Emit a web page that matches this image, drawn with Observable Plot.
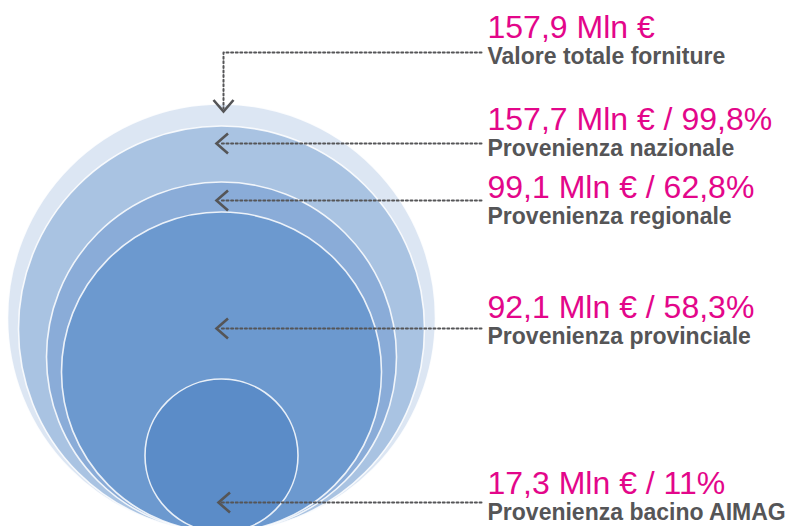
<!DOCTYPE html>
<html>
<head>
<meta charset="utf-8">
<script src="https://cdn.jsdelivr.net/npm/d3@7"></script>
<script src="https://cdn.jsdelivr.net/npm/@observablehq/plot@0.6"></script>
<style>
  html, body { margin: 0; padding: 0; background: #ffffff; }
  #chart svg { display: block; }
</style>
</head>
<body>
<div id="chart"></div>
<script>
// ---- Data ----
const categories = [
  "Valore totale forniture",
  "Provenienza nazionale",
  "Provenienza regionale",
  "Provenienza provinciale",
  "Provenienza bacino AIMAG"
];
const valuesMln = [157.9, 157.7, 99.1, 92.1, 17.3];
const sharePct = [null, 99.8, 62.8, 58.3, 11];

// ---- Layout / style ----
const W = 788, H = 526;
const CX = 221, BOTTOM = 531.5;
const R_RANGE = [76.5, 160, 175, 203, 214]; // radii for ascending values
const FILLS = ["#dce6f3", "#a9c3e2", "#8aacd8", "#6c99cf", "#5b8cc8"];
const TEXT_X = 487;
const VALUE_Y = [37, 129, 197, 317, 493];
const DESC_Y = [63, 155, 223, 343, 519];
const TIP_X = [223, 216, 216, 216, 218];
const TIP_Y = [111, 143, 200, 328, 502];
const LINE_END_X = 481, ELBOW_Y = 52;
const MAGENTA = "#e3068a", GREY = "#555557", ARROW = "#555557";

const rows = categories.map((c, i) => ({category: c, value: valuesMln[i], share: sharePct[i], i}));
const fmt = v => String(v).replace(".", ",");
const valueLabel = d => fmt(d.value.toFixed(1)) + " Mln €" + (d.share == null ? "" : " / " + fmt(d.share) + "%");

const rOpts = {type: "linear", domain: [...valuesMln].sort((a, b) => a - b), range: R_RANGE};
const rScale = Plot.scale({r: rOpts});

// arrows
const tips = rows.map(d => ({x: TIP_X[d.i], y: TIP_Y[d.i], rot: d.i === 0 ? -90 : 0}));
const linePts = [];
rows.forEach(d => {
  if (d.i === 0) {
    linePts.push({k: 0, x: LINE_END_X, y: ELBOW_Y}, {k: 0, x: TIP_X[0], y: ELBOW_Y}, {k: 0, x: TIP_X[0], y: TIP_Y[0] - 3});
  } else {
    linePts.push({k: d.i, x: LINE_END_X, y: TIP_Y[d.i]}, {k: d.i, x: TIP_X[d.i] + 3, y: TIP_Y[d.i]});
  }
});

const chevron = {
  draw(ctx, size) {
    const s = Math.sqrt(size / Math.PI);
    ctx.moveTo(1.15 * s, -s);
    ctx.lineTo(0, 0);
    ctx.lineTo(1.15 * s, s);
  }
};

const FONT = "'Liberation Sans', Arial, sans-serif";

const chart = Plot.plot({
  width: W, height: H, margin: 0,
  x: {domain: [0, W], range: [0, W], axis: null},
  y: {domain: [0, H], range: [0, H], axis: null},
  r: rOpts,
  color: {domain: categories, range: FILLS},
  style: {background: "white", fontFamily: FONT},
  marks: [
    Plot.dot(rows, {
      x: () => CX,
      y: d => BOTTOM - rScale.apply(d.value),
      r: "value", fill: "category",
      stroke: "white", strokeWidth: 1.6, strokeOpacity: 0.85
    }),
    Plot.line(linePts, {
      x: "x", y: "y", z: "k",
      stroke: ARROW, strokeWidth: 2, strokeDasharray: "2 2.6"
    }),
    Plot.dot(tips, {
      x: "x", y: "y", r: 10, rotate: "rot", symbol: chevron,
      fill: "none", stroke: ARROW, strokeWidth: 2.6, strokeLinejoin: "miter"
    }),
    Plot.text(rows, {
      x: () => TEXT_X, y: d => VALUE_Y[d.i], text: valueLabel,
      textAnchor: "start", lineAnchor: "bottom",
      fontSize: 32, fill: MAGENTA, fontFamily: FONT
    }),
    Plot.text(rows, {
      x: () => TEXT_X, y: d => DESC_Y[d.i], text: "category",
      textAnchor: "start", lineAnchor: "bottom",
      fontSize: 23, fontWeight: "bold", fill: GREY, fontFamily: FONT
    })
  ]
});
document.getElementById("chart").appendChild(chart);
</script>
</body>
</html>
